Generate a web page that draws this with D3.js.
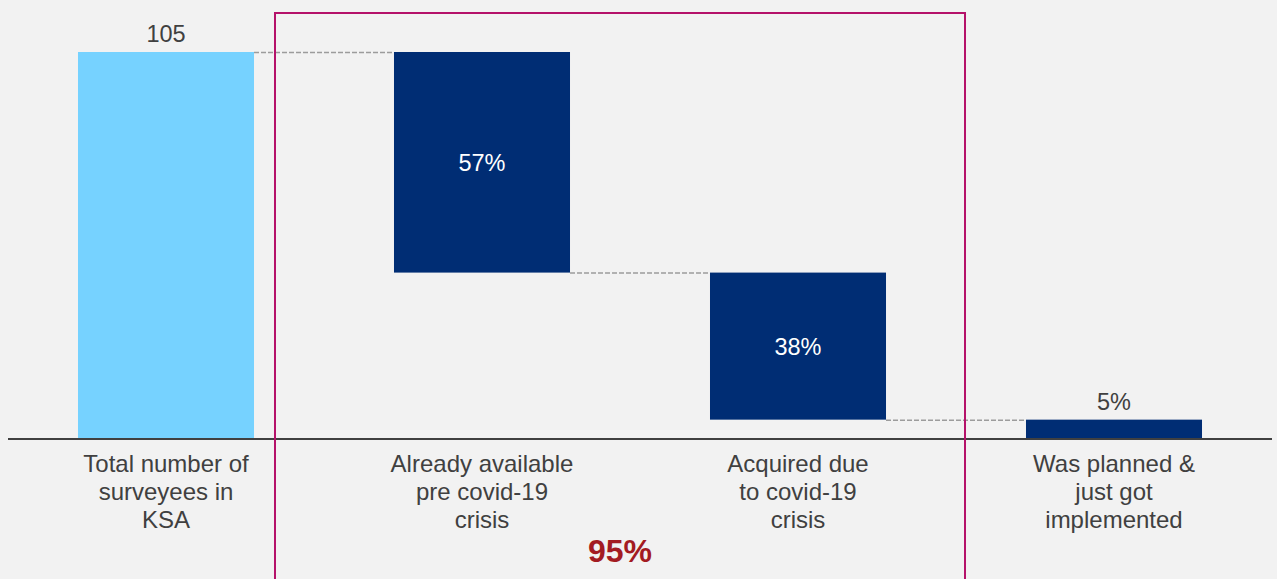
<!DOCTYPE html>
<html>
<head>
<meta charset="utf-8">
<script src="https://cdn.jsdelivr.net/npm/d3@7"></script>
<style>
  body { margin: 0; background: #f2f2f2; }
  svg { display: block; font-family: Arial, "Liberation Sans", sans-serif; }
</style>
</head>
<body>
<svg width="1277" height="579"></svg>
<script>
var categories = [
  ["Total number of", "surveyees in", "KSA"],
  ["Already available", "pre covid-19", "crisis"],
  ["Acquired due", "to covid-19", "crisis"],
  ["Was planned &", "just got", "implemented"]
];
var total = 105;
var shares = [57, 38, 5];
var groupLabel = "95%";

var svg = d3.select("svg");
var width = +svg.attr("width");
var height = +svg.attr("height");

// build waterfall steps from the total and the shares
var steps = [{i: 0, y0: 0, y1: total, label: String(total), total: true}];
var running = total;
shares.forEach(function(s, k) {
  var v = total * s / 100;
  steps.push({i: k + 1, y0: running - v, y1: running, label: s + "%", total: false});
  running -= v;
});

var x = d3.scaleBand()
  .domain(d3.range(categories.length))
  .range([8, 1272])
  .paddingInner(0.443)
  .paddingOuter(0.2215);

var y = d3.scaleLinear()
  .domain([0, total])
  .range([439, 52]);

var g = svg.append("g");

// connectors
for (var k = 0; k < steps.length - 1; k++) {
  var a = steps[k], b = steps[k + 1];
  var level = a.total ? a.y1 : a.y0;
  g.append("line")
    .attr("x1", x(a.i) + x.bandwidth())
    .attr("x2", x(b.i))
    .attr("y1", y(level) + 0.5)
    .attr("y2", y(level) + 0.5)
    .attr("stroke", "#9c9c9c")
    .attr("stroke-width", 1.5)
    .attr("stroke-dasharray", "5,2");
}

g.selectAll("rect.bar")
  .data(steps).enter()
  .append("rect")
  .attr("class", "bar")
  .attr("x", function(d) { return x(d.i); })
  .attr("width", x.bandwidth())
  .attr("y", function(d) { return y(d.y1); })
  .attr("height", function(d) { return y(d.y0) - y(d.y1); })
  .attr("fill", function(d) { return d.total ? "#76d2ff" : "#002d74"; });

// value labels
g.selectAll("text.val")
  .data(steps).enter()
  .append("text")
  .attr("class", "val")
  .attr("text-anchor", "middle")
  .attr("font-size", 23.5)
  .attr("x", function(d) { return x(d.i) + x.bandwidth() / 2; })
  .attr("y", function(d) {
    var h = y(d.y0) - y(d.y1);
    if (d.total || h < 40) return y(d.y1) - 10;
    return (y(d.y0) + y(d.y1)) / 2 + 8.5;
  })
  .attr("fill", function(d) {
    var h = y(d.y0) - y(d.y1);
    return (d.total || h < 40) ? "#404040" : "#ffffff";
  })
  .text(function(d) { return d.label; });

// baseline
g.append("line")
  .attr("x1", 8).attr("x2", 1272)
  .attr("y1", y(0)).attr("y2", y(0))
  .attr("stroke", "#404040")
  .attr("stroke-width", 2);

// category labels
var cat = g.selectAll("text.cat")
  .data(categories).enter()
  .append("text")
  .attr("class", "cat")
  .attr("text-anchor", "middle")
  .attr("font-size", 24)
  .attr("fill", "#404040")
  .attr("x", function(d, i) { return x(i) + x.bandwidth() / 2; })
  .attr("y", 472);
cat.selectAll("tspan")
  .data(function(d) { return d; }).enter()
  .append("tspan")
  .attr("x", function() { return d3.select(this.parentNode).attr("x"); })
  .attr("dy", function(d, j) { return j === 0 ? 0 : 28; })
  .text(function(d) { return d; });

// bracket around the two middle steps
var left = x(1) - 119;
var right = x(2) + x.bandwidth() + 79;
g.append("rect")
  .attr("x", left)
  .attr("y", 13)
  .attr("width", right - left)
  .attr("height", height + 20)
  .attr("fill", "none")
  .attr("stroke", "#b5126a")
  .attr("stroke-width", 2);

g.append("text")
  .attr("x", (left + right) / 2)
  .attr("y", 562)
  .attr("text-anchor", "middle")
  .attr("font-size", 32)
  .attr("font-weight", "bold")
  .attr("fill", "#a31b22")
  .text(groupLabel);
</script>
</body>
</html>
